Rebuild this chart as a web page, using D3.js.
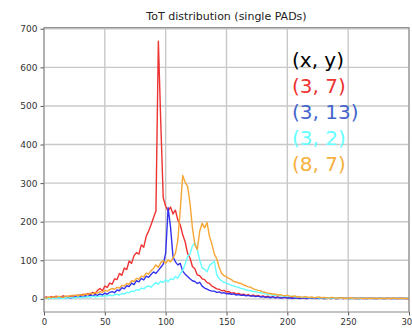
<!DOCTYPE html>
<html>
<head>
<meta charset="utf-8">
<script src="https://cdn.jsdelivr.net/npm/d3@7"></script>
<style>
  body { margin: 0; background: #fff; }
  text { font-family: "DejaVu Sans", sans-serif; }
</style>
</head>
<body>
<div id="chart"></div>
<script>
// ToT histogram, bins of 2 from 0 to 300
var binStep = 2;

var red = [3,5,2,6,4,7,3,6,8,4,7,5,9,6,10,
  8,12,9,14,11,17,13,22,27,21,33,30,41,38,52,
  50,66,61,80,76,98,92,112,120,116,140,134,162,176,192,
  210,228,668,455,262,
  240,228,238,220,230,204,192,166,148,118,106,84,78,62,60,52,50,42,40,33,
  30,26,25,21,22,18,19,15,16,13,14,11,12,9,11,8,10,7,9,6,
  8,5,7,4,6,3,5,4,3,5,2,4,3,2,4,3,2,3,1,3,
  2,3,1,2,3,1,2,2,1,3,1,2,2,1,2,1,3,1,2,1,
  2,1,1,2,1,2,1,1,2,1,1,2,1,1,2,1,1,1,2,1,1];

var blue = [2,3,1,4,2,4,2,3,5,3,4,2,5,6,4,
  7,5,8,6,10,8,11,9,13,10,15,12,17,19,16,
  23,21,29,26,34,32,41,37,47,44,53,49,59,56,63,
  70,66,74,82,90,
  118,236,186,110,96,88,92,72,64,58,52,47,45,40,43,33,28,25,22,20,
  20,17,18,15,16,13,14,12,13,10,11,9,10,8,9,7,8,6,7,5,
  6,4,5,3,5,3,4,2,3,4,2,3,1,3,2,1,2,3,1,2,
  2,1,2,1,2,1,1,2,1,2,1,1,2,1,2,1,1,2,1,1,
  1,2,1,1,2,1,1,1,2,1,1,1,2,1,1,1,2,1,1,1,1];

var cyan = [1,2,1,3,1,2,3,1,2,3,2,4,2,3,5,
  3,5,4,6,4,7,5,6,8,6,9,7,10,8,11,
  12,10,14,13,17,16,20,19,24,22,28,26,31,34,30,
  37,42,38,46,42,
  50,44,52,50,58,54,65,74,90,110,116,138,145,128,100,80,77,70,86,92,
  97,62,52,47,43,41,38,35,34,31,30,27,26,23,22,21,19,19,17,16,
  15,13,12,11,10,9,9,8,8,7,7,6,7,5,6,5,4,5,4,3,
  4,3,4,2,3,3,2,3,2,2,3,2,1,2,2,1,2,1,2,1,
  1,2,1,1,2,1,1,1,2,1,1,1,2,1,1,2,1,1,1,2,1];

var orange = [3,2,5,3,6,4,7,5,4,8,6,9,7,10,8,
  11,9,13,11,15,13,17,15,19,17,22,20,24,27,25,
  30,28,35,33,40,38,47,45,53,51,59,57,67,64,73,
  79,88,82,94,99,
  92,101,96,106,118,152,232,320,302,292,248,184,140,128,176,196,184,198,162,142,
  116,104,82,66,60,57,53,50,45,44,41,40,36,34,31,30,26,24,22,21,
  18,17,15,14,12,13,10,11,9,8,9,7,6,8,5,6,4,6,5,4,
  5,3,4,5,3,4,3,2,4,3,2,3,2,3,1,2,3,2,1,2,
  2,1,2,1,2,1,2,1,1,2,1,1,2,1,2,1,1,2,1,1,1];

var seriesNames = ["red", "blue", "cyan", "orange"];
var seriesColors = ["#ee3333", "#3333ee", "#66ffff", "#f6a634"];
var labelText = ["(x, y)", "(3, 7)", "(3, 13)", "(3, 2)", "(8, 7)"];
var labelColors = ["#000000", "#ee3333", "#4466cc", "#66ffff", "#f6b040"];
var xTicks = [0, 50, 100, 150, 200, 250, 300];
var yTicks = [0, 100, 200, 300, 400, 500, 600, 700];

var width = 412, height = 328;
var margin = {top: 27.6, right: 3, bottom: 16, left: 44};

var svg = d3.select("#chart").append("svg")
  .attr("width", width)
  .attr("height", height);

var x = d3.scaleLinear().domain([0, 300]).range([margin.left, width - margin.right]);
var y = d3.scaleLinear().domain([-34, 703]).range([height - margin.bottom, margin.top]);

// grid
svg.append("g").selectAll("line").data(xTicks).enter().append("line")
  .attr("x1", function(d) { return x(d); }).attr("x2", function(d) { return x(d); })
  .attr("y1", y(-34)).attr("y2", y(703))
  .attr("stroke", "#c8c8c8").attr("stroke-width", 1.4);
svg.append("g").selectAll("line").data(yTicks).enter().append("line")
  .attr("x1", x(0)).attr("x2", x(300))
  .attr("y1", function(d) { return y(d); }).attr("y2", function(d) { return y(d); })
  .attr("stroke", "#c8c8c8").attr("stroke-width", 1.4);

// the lines
var line = d3.line()
  .x(function(d, i) { return x(i * binStep); })
  .y(function(d) { return y(d); });

[red, blue, cyan, orange].forEach(function(s, k) {
  svg.append("path")
    .datum(s)
    .attr("class", "series-" + seriesNames[k])
    .attr("fill", "none")
    .attr("stroke", seriesColors[k])
    .attr("stroke-width", 1.4)
    .attr("stroke-linejoin", "round")
    .attr("d", line);
});

// axes
var xAxis = svg.append("g")
  .attr("transform", "translate(0," + (height - margin.bottom) + ")")
  .call(d3.axisBottom(x).tickValues(xTicks).tickSize(3.5).tickPadding(3));
var yAxis = svg.append("g")
  .attr("transform", "translate(" + margin.left + ",0)")
  .call(d3.axisLeft(y).tickValues(yTicks).tickSize(3.5).tickPadding(3));
[xAxis, yAxis].forEach(function(a) {
  a.select(".domain").remove();
  a.selectAll("line").attr("stroke", "#555");
  a.selectAll("text").attr("fill", "#333");
});
xAxis.selectAll("text").style("font-size", "8.5px");
yAxis.selectAll("text").style("font-size", "9px");

// frame
svg.append("rect")
  .attr("x", x(0)).attr("y", y(703))
  .attr("width", x(300) - x(0)).attr("height", y(-34) - y(703))
  .attr("fill", "none").attr("stroke", "#888").attr("stroke-width", 1);

svg.append("text")
  .attr("x", (x(0) + x(300)) / 2)
  .attr("y", 20)
  .attr("text-anchor", "middle")
  .style("font-size", "11px")
  .attr("fill", "#222")
  .text("ToT distribution (single PADs)");

// label block
svg.append("g").selectAll("text").data(labelText).enter().append("text")
  .attr("x", 292)
  .attr("y", function(d, i) { return 67 + i * 26; })
  .attr("fill", function(d, i) { return labelColors[i]; })
  .style("font-size", "20px")
  .text(function(d) { return d; });
</script>
</body>
</html>
